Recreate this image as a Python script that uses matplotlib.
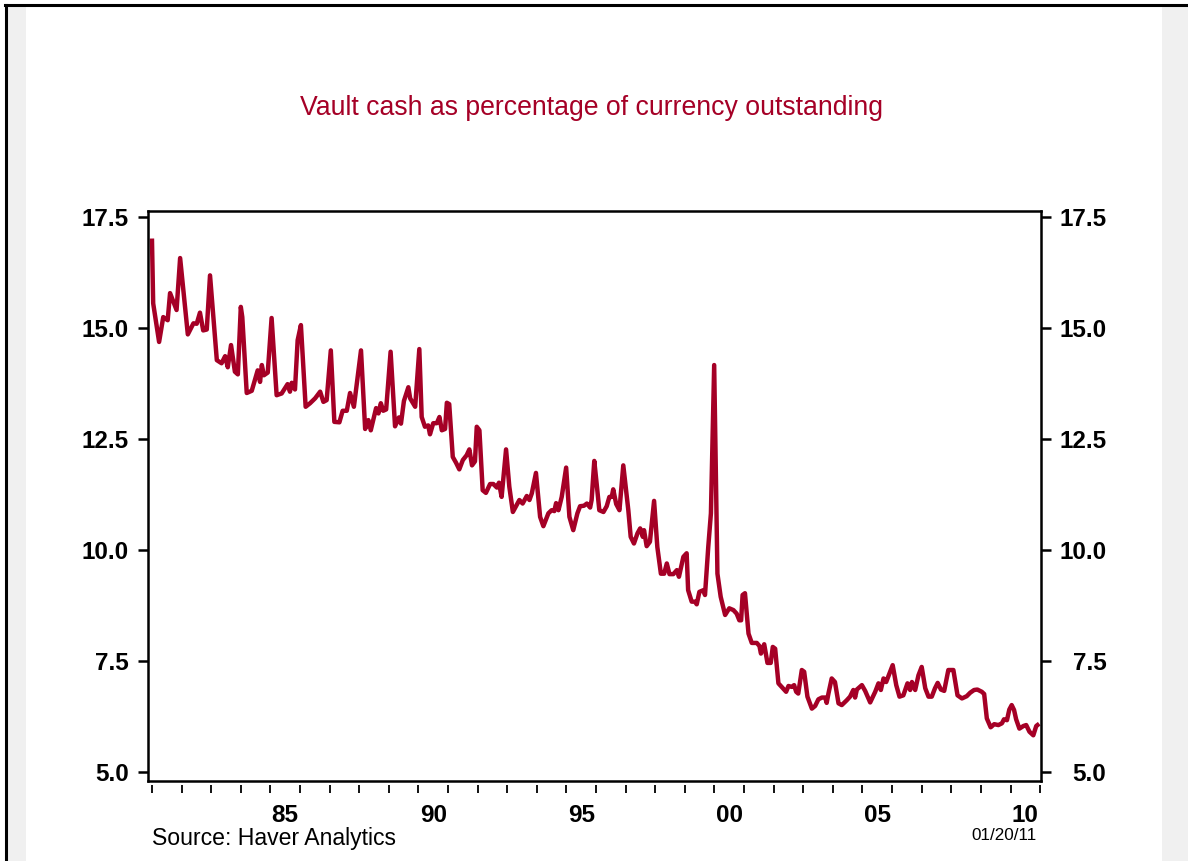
import matplotlib
matplotlib.use('Agg')
import matplotlib.pyplot as plt
from matplotlib.ticker import FixedLocator, FixedFormatter, FormatStrFormatter, NullFormatter
from matplotlib.patches import Rectangle
from matplotlib.lines import Line2D

# ---------------- data (decimal years, percent) ----------------
dates = [
    1981.00, 1981.04, 1981.24, 1981.38, 1981.53, 1981.61, 1981.83, 1981.95,
    1982.21, 1982.40, 1982.51, 1982.62, 1982.73, 1982.85, 1982.96,
    1983.19, 1983.35, 1983.47, 1983.56, 1983.67, 1983.80, 1983.90, 1984.00, 1984.05,
    1984.20, 1984.37, 1984.57, 1984.65, 1984.71, 1984.78, 1984.91, 1985.04,
    1985.21, 1985.38, 1985.58, 1985.66, 1985.72, 1985.83, 1985.92, 1986.03,
    1986.19, 1986.34, 1986.51, 1986.68, 1986.79, 1986.90, 1987.04,
    1987.16, 1987.33, 1987.44, 1987.58, 1987.69, 1987.82, 1988.06,
    1988.20, 1988.31, 1988.39, 1988.57, 1988.65, 1988.73, 1988.81, 1988.91, 1989.06,
    1989.21, 1989.34, 1989.41, 1989.51, 1989.66, 1989.72, 1989.89, 1990.03,
    1990.11, 1990.22, 1990.33, 1990.39, 1990.50, 1990.62, 1990.71, 1990.79, 1990.90,
    1990.96, 1991.04, 1991.16, 1991.27, 1991.38, 1991.50, 1991.63, 1991.72, 1991.81,
    1991.91, 1991.97, 1992.06, 1992.17, 1992.28, 1992.42, 1992.53, 1992.65, 1992.72,
    1992.81, 1992.96, 1993.07, 1993.19, 1993.41, 1993.52, 1993.66, 1993.75, 1993.83,
    1993.97, 1994.11, 1994.22, 1994.39, 1994.50, 1994.59, 1994.65, 1994.73, 1994.84,
    1994.99, 1995.10, 1995.23, 1995.37, 1995.46, 1995.59, 1995.69, 1995.80, 1995.85,
    1995.94, 1996.02, 1996.11, 1996.25, 1996.36, 1996.45, 1996.53, 1996.58, 1996.68,
    1996.79, 1996.92, 1997.09, 1997.17, 1997.28, 1997.40, 1997.49, 1997.58, 1997.62,
    1997.71, 1997.82, 1997.96, 1998.07, 1998.19, 1998.30, 1998.39, 1998.48, 1998.61,
    1998.73, 1998.80, 1998.95, 1999.06, 1999.11, 1999.23, 1999.34, 1999.40, 1999.49,
    1999.63, 1999.68, 1999.79, 1999.88, 1999.99, 2000.10, 2000.21, 2000.36, 2000.50,
    2000.64, 2000.75, 2000.84, 2000.90, 2000.95, 2001.03, 2001.15, 2001.26, 2001.43,
    2001.52, 2001.57, 2001.68, 2001.79, 2001.90, 2001.97, 2002.05, 2002.16, 2002.31,
    2002.42, 2002.50, 2002.61, 2002.69, 2002.76, 2002.83, 2002.95, 2003.03, 2003.14,
    2003.29, 2003.40, 2003.51, 2003.63, 2003.74, 2003.79, 2003.85, 2003.96, 2004.07,
    2004.19, 2004.30, 2004.47, 2004.58, 2004.69, 2004.75, 2004.81, 2004.98, 2005.09,
    2005.26, 2005.43, 2005.54, 2005.62, 2005.71, 2005.80, 2005.91, 2006.02, 2006.14,
    2006.25, 2006.38, 2006.52, 2006.61, 2006.67, 2006.78, 2006.89, 2007.00, 2007.12,
    2007.23, 2007.34, 2007.45, 2007.54, 2007.65, 2007.76, 2007.90, 2008.07, 2008.21,
    2008.36, 2008.52, 2008.64, 2008.77, 2008.88, 2009.03, 2009.11, 2009.20, 2009.33,
    2009.45, 2009.59, 2009.71, 2009.78, 2009.88, 2009.96, 2010.04, 2010.12, 2010.19,
    2010.30, 2010.44, 2010.53, 2010.64, 2010.77, 2010.87, 2010.91,
]
values = [
    16.97, 15.56, 14.69, 15.25, 15.18, 15.79, 15.41, 16.58,
    14.86, 15.11, 15.10, 15.35, 14.95, 14.97, 16.19,
    14.28, 14.21, 14.37, 14.12, 14.62, 14.02, 13.96, 15.48, 15.25,
    13.54, 13.59, 14.05, 13.79, 14.17, 13.94, 14.00, 15.23,
    13.49, 13.53, 13.74, 13.57, 13.77, 13.62, 14.73, 15.07,
    13.23, 13.31, 13.42, 13.57, 13.34, 13.38, 14.50,
    12.89, 12.88, 13.14, 13.14, 13.54, 13.23, 14.50,
    12.73, 12.93, 12.70, 13.20, 13.08, 13.31, 13.14, 13.17, 14.47,
    12.79, 12.99, 12.85, 13.36, 13.67, 13.42, 13.23, 14.53,
    13.00, 12.78, 12.81, 12.61, 12.86, 12.86, 13.00, 12.70, 12.73,
    13.32, 13.29, 12.10, 11.97, 11.82, 12.03, 12.14, 12.27, 11.91,
    12.00, 12.78, 12.70, 11.35, 11.29, 11.49, 11.49, 11.41, 11.52,
    11.20, 12.27, 11.43, 10.86, 11.13, 11.05, 11.22, 11.13, 11.28,
    11.74, 10.75, 10.54, 10.83, 10.90, 10.88, 11.06, 10.90, 11.20,
    11.86, 10.75, 10.45, 10.83, 10.99, 11.00, 11.05, 10.96, 11.13,
    12.01, 11.50, 10.90, 10.86, 10.99, 11.20, 11.20, 11.37, 11.04,
    10.90, 11.91, 10.90, 10.30, 10.15, 10.38, 10.49, 10.30, 10.45,
    10.09, 10.19, 11.11, 10.07, 9.47, 9.47, 9.70, 9.46, 9.46,
    9.55, 9.40, 9.85, 9.93, 9.10, 8.84, 8.84, 8.78, 9.06,
    9.10, 8.99, 10.07, 10.83, 14.17, 9.47, 8.95, 8.54, 8.69,
    8.65, 8.57, 8.42, 8.42, 8.99, 9.03, 8.12, 7.91, 7.91,
    7.84, 7.67, 7.88, 7.46, 7.46, 7.82, 7.78, 7.00, 6.89,
    6.81, 6.94, 6.92, 6.96, 6.81, 6.77, 7.30, 7.26, 6.70,
    6.43, 6.49, 6.64, 6.68, 6.68, 6.56, 6.77, 7.11, 7.03,
    6.55, 6.51, 6.62, 6.70, 6.85, 6.68, 6.86, 6.96, 6.83,
    6.57, 6.81, 7.00, 6.85, 7.11, 7.03, 7.22, 7.41, 6.96,
    6.70, 6.73, 7.00, 6.85, 7.03, 6.85, 7.18, 7.37, 6.89,
    6.70, 6.70, 6.89, 7.01, 6.86, 6.83, 7.30, 7.30, 6.73,
    6.66, 6.71, 6.79, 6.85, 6.86, 6.81, 6.76, 6.21, 6.01,
    6.08, 6.06, 6.10, 6.19, 6.17, 6.41, 6.51, 6.40, 6.19,
    5.98, 6.04, 6.06, 5.91, 5.83, 6.04, 6.06,
]

year_ticks = list(range(1981, 2012))
label_positions = [1985.5, 1990.5, 1995.5, 2000.5, 2005.5, 2010.5]
year_labels = ['85', '90', '95', '00', '05', '10']
y_ticks = [5.0, 7.5, 10.0, 12.5, 15.0, 17.5]
y_labels = ['%.1f' % v for v in y_ticks]

title_text = 'Vault cash as percentage of currency outstanding'
source_text = 'Source: Haver Analytics'
date_text = '01/20/11'

RED = '#A50026'
XLIM = (1980.865, 2011.03)
YLIM = (4.8, 17.64)
TICK_FS = 17.5

plt.rcParams['font.family'] = ['Liberation Sans', 'DejaVu Sans']
plt.rcParams['font.weight'] = 'bold'

W, H = 1188, 861
fig = plt.figure(figsize=(W / 100, H / 100), dpi=100)
fig.patch.set_facecolor('white')

# frame decoration
fig.add_artist(Rectangle((7 / W, 0), 19 / W, 1 - 6 / H, transform=fig.transFigure,
                         facecolor='#f0f0f0', edgecolor='none', zorder=0))
fig.add_artist(Rectangle((1162 / W, 0), 26 / W, 1 - 6 / H, transform=fig.transFigure,
                         facecolor='#f0f0f0', edgecolor='none', zorder=0))
fig.add_artist(Line2D([5 / W, 1], [1 - 5 / H, 1 - 5 / H], transform=fig.transFigure,
                      color='black', lw=2.2))
fig.add_artist(Line2D([6 / W, 6 / W], [0, 1 - 5 / H], transform=fig.transFigure,
                      color='black', lw=2.2))

L, R, B, T = 148, 1041, 781, 211
ax = fig.add_axes([L / W, 1 - B / H, (R - L) / W, (B - T) / H])
ax.plot(dates, values, color=RED, lw=3.2, solid_joinstyle='round')
ax.set_xlim(*XLIM)
ax.set_ylim(*YLIM)

for s in ax.spines.values():
    s.set_linewidth(1.8)

ax.set_yticks(y_ticks, labels=y_labels)
ax.tick_params(axis='y', which='major', direction='out', length=7, width=1.8,
               left=True, right=False, labelleft=True, labelright=False,
               labelsize=TICK_FS, pad=7)
ax.tick_params(axis='x', which='both', bottom=False, labelbottom=False)

# right-hand y labels (right aligned)
ax2 = ax.twinx()
ax2.set_ylim(*YLIM)
ax2.set_yticks(y_ticks, labels=y_labels)
ax2.tick_params(axis='y', which='major', direction='out', length=7, width=1.8,
                labelsize=TICK_FS, pad=40)
for lbl in ax2.get_yticklabels():
    lbl.set_horizontalalignment('right')
for s in ax2.spines.values():
    s.set_visible(False)

# x ticks drawn a few pixels below the frame
tax = fig.add_axes([L / W, 1 - (B + 4) / H, (R - L) / W, 0.0001])
tax.set_xlim(*XLIM)
tax.set_yticks([])
tax.patch.set_visible(False)
for s in tax.spines.values():
    s.set_visible(False)
tax.set_xticks(year_ticks, labels=[''] * len(year_ticks))
tax.set_xticks(label_positions, labels=year_labels, minor=True)
tax.tick_params(axis='x', which='major', direction='out', length=6, width=1.3)
tax.tick_params(axis='x', which='minor', length=0, pad=14, labelsize=TICK_FS)

fig.text(592 / W, 1 - 108 / H, title_text, ha='center', va='center',
         color=RED, fontsize=19.2, fontweight='normal')
fig.text(152 / W, 1 - 838 / H, source_text, ha='left', va='center',
         fontsize=16.6, fontweight='normal')
fig.text(1037 / W, 1 - 836 / H, date_text, ha='right', va='center',
         fontsize=12.3, fontweight='normal')

fig.savefig('out.png', dpi=100)
